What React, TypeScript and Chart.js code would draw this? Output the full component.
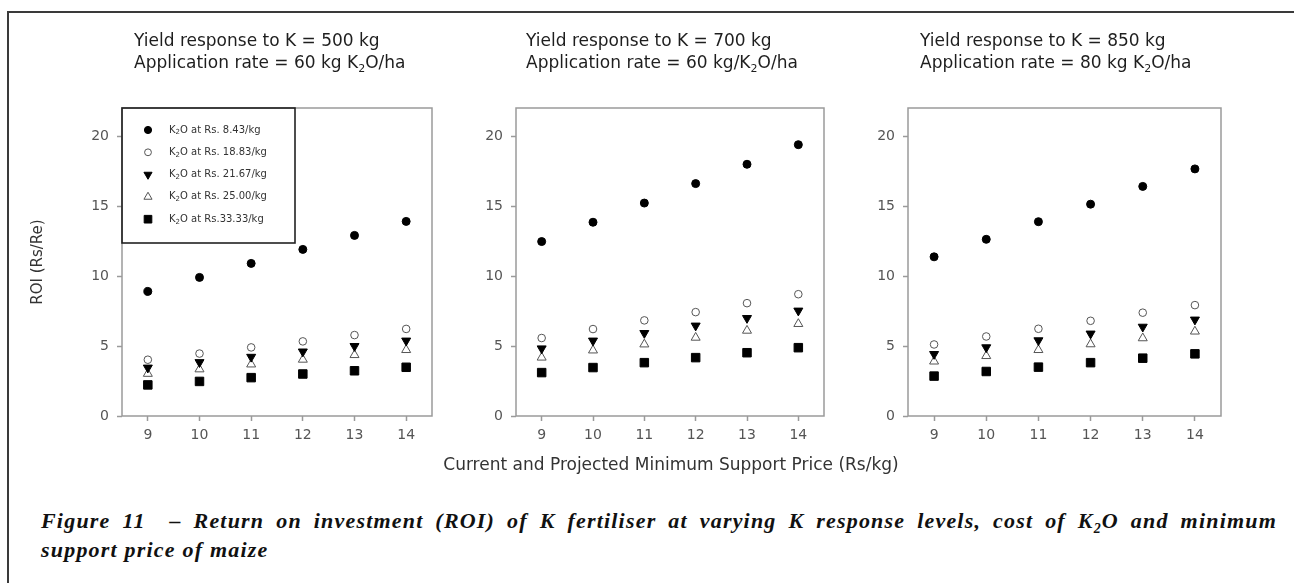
import React, { useEffect, useRef } from 'react';
import { Chart, registerables } from 'chart.js';
import { drawPoint } from 'chart.js/helpers';

Chart.register(...registerables);

// ---------- data ----------
const msp = [9, 10, 11, 12, 13, 14];
const xTicks = [9, 10, 11, 12, 13, 14];
const yTicks = [0, 5, 10, 15, 20];
const seriesLabels = [
  'K₂O at Rs. 8.43/kg',
  'K₂O at Rs. 18.83/kg',
  'K₂O at Rs. 21.67/kg',
  'K₂O at Rs. 25.00/kg',
  'K₂O at Rs.33.33/kg',
];

// Panel A: yield response 500 kg, 60 kg K2O/ha
const roiA_843 = [8.9, 9.9, 10.9, 11.9, 12.9, 13.9];
const roiA_1883 = [4.02, 4.46, 4.9, 5.33, 5.78, 6.22];
const roiA_2167 = [3.45, 3.84, 4.22, 4.6, 4.99, 5.38];
const roiA_2500 = [3.02, 3.34, 3.69, 4.03, 4.36, 4.72];
const roiA_3333 = [2.22, 2.47, 2.74, 3.0, 3.23, 3.48];

// Panel B: yield response 700 kg, 60 kg/K2O/ha
const roiB_843 = [12.46, 13.84, 15.21, 16.6, 17.98, 19.38];
const roiB_1883 = [5.57, 6.21, 6.83, 7.42, 8.06, 8.7];
const roiB_2167 = [4.82, 5.38, 5.92, 6.45, 6.99, 7.52];
const roiB_2500 = [4.18, 4.69, 5.12, 5.6, 6.1, 6.58];
const roiB_3333 = [3.1, 3.46, 3.81, 4.17, 4.52, 4.88];

// Panel C: yield response 850 kg, 80 kg K2O/ha
const roiC_843 = [11.37, 12.62, 13.88, 15.13, 16.4, 17.65];
const roiC_1883 = [5.11, 5.68, 6.23, 6.8, 7.38, 7.92];
const roiC_2167 = [4.42, 4.9, 5.4, 5.88, 6.37, 6.88];
const roiC_2500 = [3.9, 4.29, 4.72, 5.13, 5.56, 6.04];
const roiC_3333 = [2.85, 3.18, 3.49, 3.81, 4.13, 4.44];

const titlesA = ['Yield response to K = 500 kg', 'Application rate = 60 kg K₂O/ha'];
const titlesB = ['Yield response to K = 700 kg', 'Application rate = 60 kg/K₂O/ha'];
const titlesC = ['Yield response to K = 850 kg', 'Application rate = 80 kg K₂O/ha'];
const yAxisTitle = 'ROI (Rs/Re)';
const xAxisTitle = 'Current and Projected Minimum Support Price (Rs/kg)';

// ---------- styles / layout ----------
const AXIS = '#9a9a9a';
const TICK_TEXT = '#555';
const SANS = '"DejaVu Sans", sans-serif';

const MARKERS = [
  { pointStyle: 'circle', rotation: 0, radius: 4, fill: '#000', stroke: '#000', bw: 1 },
  { pointStyle: 'circle', rotation: 0, radius: 3.8, fill: '#fff', stroke: '#555', bw: 1 },
  { pointStyle: 'triangle', rotation: 180, radius: 5.2, fill: '#000', stroke: '#000', bw: 1 },
  { pointStyle: 'triangle', rotation: 0, radius: 5.2, fill: '#fff', stroke: '#555', bw: 1 },
  { pointStyle: 'rect', rotation: 0, radius: 6, fill: '#000', stroke: '#000', bw: 1 },
];

const CANVAS_TOP = 20;
const PLOT_TOP = 108;
const PLOT_BOTTOM = 416;
const X_SCALE_H = 70;

type Panel = {
  series: number[][];
  titles: string[];
  titleX: number;
  canvasLeft: number;
  padL: number;
  yW: number;
  plotW: number;
  padR: number;
  legend: boolean;
  yTitle: boolean;
  xTitle: boolean;
};

const PANELS: Panel[] = [
  {
    series: [roiA_843, roiA_1883, roiA_2167, roiA_2500, roiA_3333],
    titles: titlesA, titleX: 134,
    canvasLeft: 20, padL: 0, yW: 102, plotW: 310, padR: 20,
    legend: true, yTitle: true, xTitle: false,
  },
  {
    series: [roiB_843, roiB_1883, roiB_2167, roiB_2500, roiB_3333],
    titles: titlesB, titleX: 526,
    canvasLeft: 400, padL: 66, yW: 50, plotW: 308, padR: 116,
    legend: false, yTitle: false, xTitle: true,
  },
  {
    series: [roiC_843, roiC_1883, roiC_2167, roiC_2500, roiC_3333],
    titles: titlesC, titleX: 920,
    canvasLeft: 858, padL: 0, yW: 50, plotW: 313, padR: 20,
    legend: false, yTitle: false, xTitle: false,
  },
];

function drawSubText(ctx: CanvasRenderingContext2D, text: string, x: number, y: number, size: number) {
  const parts = text.split('₂');
  let cx = x;
  parts.forEach((p, i) => {
    ctx.font = `${size}px ${SANS}`;
    ctx.fillText(p, cx, y);
    cx += ctx.measureText(p).width;
    if (i < parts.length - 1) {
      const s = Math.round(size * 0.65);
      ctx.font = `${s}px ${SANS}`;
      ctx.fillText('2', cx, y + size * 0.25);
      cx += ctx.measureText('2').width;
    }
  });
}

function canvasSize(p: Panel) {
  const w = p.padL + p.yW + p.plotW + p.padR;
  const h = PLOT_BOTTOM - CANVAS_TOP + X_SCALE_H;
  return { w, h };
}

function PanelChart({ p }: { p: Panel }) {
  const ref = useRef<HTMLCanvasElement>(null);
  const { w, h } = canvasSize(p);
  useEffect(() => {
    if (!ref.current) return;
    const decor = {
      id: 'decor',
      beforeDatasetsDraw(chart: any) {
        const { ctx, chartArea: a } = chart;
        ctx.save();
        ctx.strokeStyle = AXIS;
        ctx.lineWidth = 1.5;
        ctx.strokeRect(a.left, a.top, a.right - a.left, a.bottom - a.top);
        ctx.restore();
      },
      afterDraw(chart: any) {
        const { ctx, chartArea: a } = chart;
        ctx.save();
        // panel titles
        ctx.fillStyle = '#1e1e1e';
        ctx.textBaseline = 'alphabetic';
        ctx.textAlign = 'left';
        drawSubText(ctx, p.titles[0], p.titleX - p.canvasLeft, 46 - CANVAS_TOP, 17);
        drawSubText(ctx, p.titles[1], p.titleX - p.canvasLeft, 68 - CANVAS_TOP, 17);
        // legend
        if (p.legend) {
          ctx.strokeStyle = '#222';
          ctx.lineWidth = 1.6;
          ctx.strokeRect(a.left, a.top, 173, 135);
          seriesLabels.forEach((lab, i) => {
            const m = MARKERS[i];
            const y = a.top + 22 + i * 22.3;
            ctx.fillStyle = m.fill;
            ctx.strokeStyle = m.stroke;
            ctx.lineWidth = m.bw;
            drawPoint(ctx, { pointStyle: m.pointStyle as any, rotation: m.rotation, radius: m.radius * 0.9, borderWidth: m.bw }, a.left + 26, y);
            ctx.fillStyle = '#333';
            ctx.textBaseline = 'middle';
            drawSubText(ctx, lab, a.left + 47, y, 10);
          });
        }
        // shared x-axis title
        if (p.xTitle) {
          ctx.fillStyle = '#333';
          ctx.textAlign = 'center';
          ctx.textBaseline = 'middle';
          ctx.font = `17px ${SANS}`;
          ctx.fillText(xAxisTitle, 671 - p.canvasLeft, 466 - CANVAS_TOP);
        }
        ctx.restore();
      },
    };
    const tickFont = { family: SANS, size: 14 };
    const chart = new Chart(ref.current, {
      type: 'scatter',
      data: {
        datasets: p.series.map((vals, i) => ({
          label: seriesLabels[i],
          data: msp.map((x, j) => ({ x, y: vals[j] })),
          showLine: false,
          pointStyle: MARKERS[i].pointStyle as any,
          pointRotation: MARKERS[i].rotation,
          pointRadius: MARKERS[i].radius,
          pointHoverRadius: MARKERS[i].radius,
          pointBackgroundColor: MARKERS[i].fill,
          pointBorderColor: MARKERS[i].stroke,
          pointBorderWidth: MARKERS[i].bw,
        })),
      },
      options: {
        animation: false,
        responsive: false,
        maintainAspectRatio: false,
        events: [],
        layout: { padding: { left: p.padL, right: p.padR, top: PLOT_TOP - CANVAS_TOP, bottom: 0 } },
        plugins: { legend: { display: false }, tooltip: { enabled: false }, title: { display: false } },
        scales: {
          x: {
            type: 'linear',
            min: 8.5,
            max: 14.5,
            afterBuildTicks: (s: any) => { s.ticks = xTicks.map((v) => ({ value: v })); },
            afterFit: (s: any) => { s.height = X_SCALE_H; },
            grid: { display: true, drawOnChartArea: false, drawTicks: true, tickLength: 5, tickColor: AXIS, tickWidth: 1.5 },
            border: { display: false },
            ticks: { font: tickFont, color: TICK_TEXT, padding: 6, maxRotation: 0, autoSkip: false, callback: (v: any) => String(v) },
          },
          y: {
            type: 'linear',
            min: 0,
            max: 22,
            afterBuildTicks: (s: any) => { s.ticks = yTicks.map((v) => ({ value: v })); },
            afterFit: (s: any) => { s.width = p.yW; },
            grid: { display: true, drawOnChartArea: false, drawTicks: true, tickLength: 5, tickColor: AXIS, tickWidth: 1.5 },
            border: { display: false },
            ticks: { font: tickFont, color: TICK_TEXT, padding: 8, autoSkip: false, callback: (v: any) => String(v) },
            title: p.yTitle
              ? { display: true, text: yAxisTitle, font: { family: SANS, size: 15 }, color: '#333', padding: { top: 9, bottom: 0 } }
              : { display: false },
          },
        },
      },
      plugins: [decor],
    } as any);
    return () => chart.destroy();
  }, [p]);
  return (
    <canvas
      ref={ref}
      width={w}
      height={h}
      style={{ position: 'absolute', left: p.canvasLeft, top: CANVAS_TOP, width: w, height: h }}
    />
  );
}

export default function App() {
  const capStyle: React.CSSProperties = {
    fontFamily: '"Liberation Serif", "Times New Roman", serif',
    fontStyle: 'italic',
    fontWeight: 'bold',
    fontSize: 22,
    letterSpacing: '1.2px',
    lineHeight: '29px',
    color: '#111',
    whiteSpace: 'normal',
  };
  return (
    <div style={{ position: 'fixed', left: 0, top: 0, width: 1294, height: 583, overflow: 'hidden', background: '#fff' }}>
      <div style={{ position: 'absolute', left: 7, top: 11, width: 1320, height: 620, border: '2px solid #3a3a3a', boxSizing: 'border-box' }} />
      {PANELS.map((p, i) => (
        <PanelChart key={i} p={p} />
      ))}
      <div style={{ position: 'absolute', left: 41, top: 506, width: 1236, ...capStyle }}>
        <div style={{ textAlign: 'justify', textAlignLast: 'justify', height: 29 }}>
          Figure 11&nbsp; – Return on investment (ROI) of K fertiliser at varying K response levels, cost of K
          <span style={{ fontSize: 14, position: 'relative', top: 5, lineHeight: 0 }}>2</span>O and minimum
        </div>
        <div>support price of maize</div>
      </div>
    </div>
  );
}
